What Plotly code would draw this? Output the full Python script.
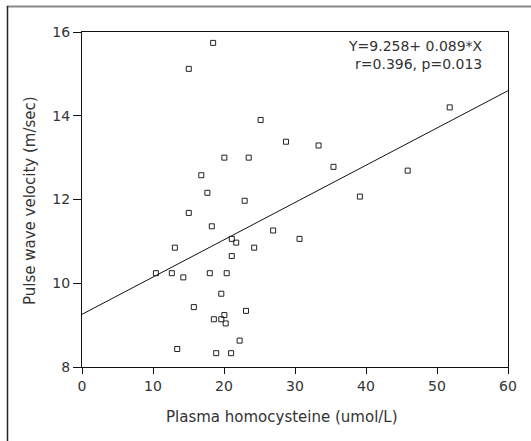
import plotly.graph_objects as go

homocysteine = [18.47, 15.04, 51.79, 25.16, 28.73, 33.32, 20.05, 23.48, 16.80, 35.42,
                45.87, 17.66, 22.91, 39.14, 15.04, 18.28, 26.92, 30.64, 21.10, 21.72,
                13.08, 24.25, 21.10, 10.41, 12.65, 18.00, 20.38, 14.27, 19.62, 15.75,
                23.10, 20.05, 18.57, 19.62, 20.24, 22.20, 13.41, 18.90, 21.00]
pwv = [15.74, 15.12, 14.20, 13.90, 13.38, 13.29, 13.00, 13.00, 12.58, 12.78,
       12.69, 12.16, 11.97, 12.07, 11.68, 11.36, 11.26, 11.06, 11.06, 10.97,
       10.85, 10.85, 10.65, 10.24, 10.24, 10.24, 10.24, 10.14, 9.75, 9.43,
       9.34, 9.24, 9.14, 9.14, 9.04, 8.63, 8.43, 8.33, 8.33]

intercept = 9.258
slope = 0.089
x_range = [0, 60]
y_range = [8, 16]
x_ticks = [0, 10, 20, 30, 40, 50, 60]
y_ticks = [8, 10, 12, 14, 16]

FONT = "DejaVu Sans"

fig = go.Figure()
fig.add_trace(go.Scatter(
    x=x_range, y=[intercept + slope * v for v in x_range],
    mode="lines", line=dict(color="#111111", width=1), hoverinfo="skip"))
fig.add_trace(go.Scatter(
    x=homocysteine, y=pwv, mode="markers",
    marker=dict(symbol="square-open", size=5, color="#222222", line=dict(width=1))))

W, H = 531, 441
L, R, T, B = 82, 23, 32, 74
pw, ph = W - L - R, H - T - B

def px(xp):
    return (xp - L) / pw

def py(yp):
    return (H - B - yp) / ph

fig.update_layout(
    width=W, height=H, showlegend=False,
    margin=dict(l=L, r=R, t=T, b=B),
    paper_bgcolor="white", plot_bgcolor="white",
    font=dict(family=FONT, size=14, color="#333333"),
    xaxis=dict(range=x_range, tickvals=x_ticks, showgrid=False, zeroline=False,
               showline=True, linecolor="#111111", linewidth=1, mirror=True,
               ticks="outside", ticklen=6, tickcolor="#111111",
               tickfont=dict(size=14, color="#333333")),
    yaxis=dict(range=y_range, tickvals=y_ticks, showgrid=False, zeroline=False,
               showline=True, linecolor="#111111", linewidth=1, mirror=True,
               ticks="outside", ticklen=8, tickcolor="#111111",
               tickfont=dict(size=14, color="#333333")),
    shapes=[
        dict(type="line", xref="paper", yref="paper", x0=px(7), x1=px(531), y0=py(6.5), y1=py(6.5),
             line=dict(color="#888888", width=2)),
        dict(type="line", xref="paper", yref="paper", x0=px(7.5), x1=px(7.5), y0=py(6), y1=py(445),
             line=dict(color="#222222", width=1.5)),
    ],
    annotations=[
        dict(text="Plasma homocysteine (umol/L)", xref="paper", yref="paper",
             x=px(282), y=py(417), showarrow=False, xanchor="center", yanchor="middle",
             font=dict(size=15, color="#333333")),
        dict(text="Pulse wave velocity (m/sec)", xref="paper", yref="paper",
             x=px(30), y=py(201), showarrow=False, textangle=-90,
             xanchor="center", yanchor="middle", font=dict(size=15, color="#333333")),
        dict(text="Y=9.258+ 0.089*X<br>r=0.396, p=0.013", xref="paper", yref="paper",
             x=px(485), y=py(55), showarrow=False, xanchor="right", yanchor="middle",
             align="right", font=dict(size=14, color="#333333")),
    ],
)

fig.write_html("out.html", config={"displayModeBar": False},
               post_script="document.body.style.margin='0px';document.body.style.overflow='hidden';")
